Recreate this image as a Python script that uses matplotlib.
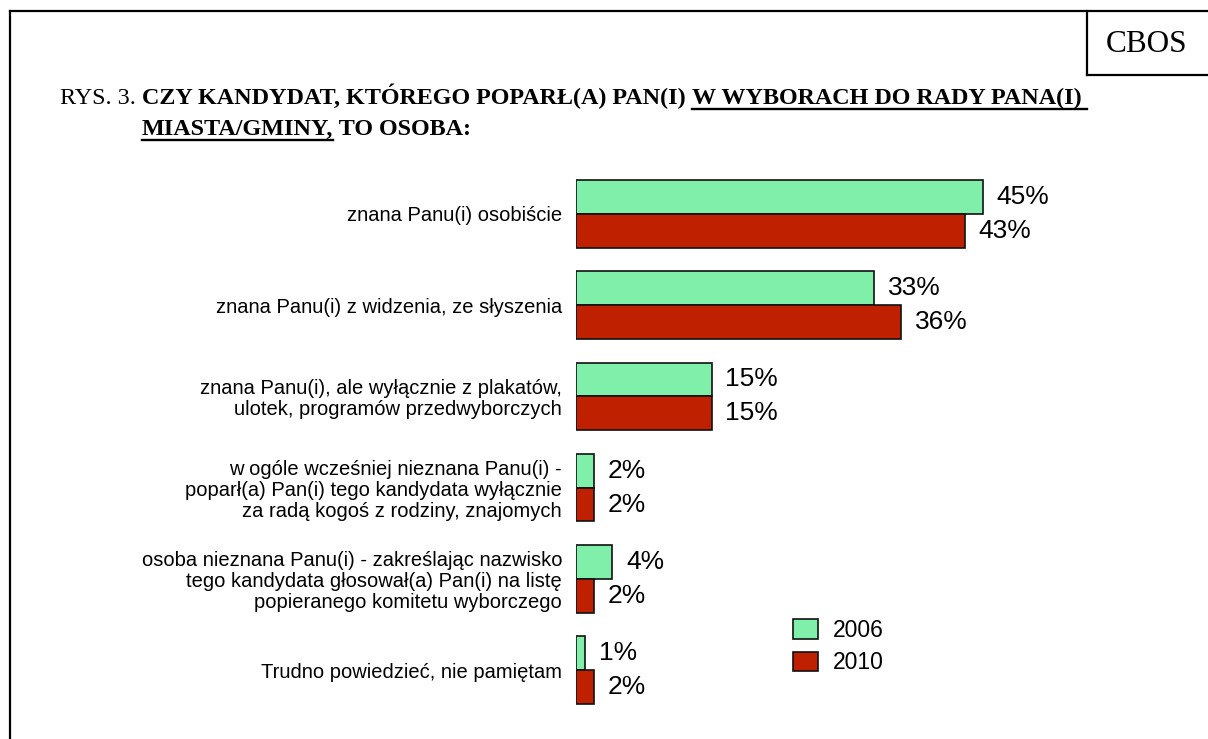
import numpy as np
import matplotlib.pyplot as plt
from matplotlib.lines import Line2D
from matplotlib.patches import Patch

# data
categories = [
    "znana Panu(i) osobiście",
    "znana Panu(i) z widzenia, ze słyszenia",
    "znana Panu(i), ale wyłącznie z plakatów,\nulotek, programów przedwyborczych",
    "w ogóle wcześniej nieznana Panu(i) -\npoparł(a) Pan(i) tego kandydata wyłącznie\nza radą kogoś z rodziny, znajomych",
    "osoba nieznana Panu(i) - zakreślając nazwisko\ntego kandydata głosował(a) Pan(i) na listę\npopieranego komitetu wyborczego",
    "Trudno powiedzieć, nie pamiętam",
]
values_2006 = [45, 33, 15, 2, 4, 1]
values_2010 = [43, 36, 15, 2, 2, 2]
series_names = ["2006", "2010"]

green = "#7FEFA9"
red = "#BF2000"
W, H = 1208, 739

fig = plt.figure(figsize=(W / 100, H / 100), dpi=100)


def fx(px):
    return px / W


def fy(py):
    return 1 - py / H


# page frame + CBOS box
lw = 1.6
fig.add_artist(Line2D([fx(10), fx(1208)], [fy(11), fy(11)], color="black", lw=lw))
fig.add_artist(Line2D([fx(10), fx(10)], [fy(11), fy(739)], color="black", lw=lw))
fig.add_artist(Line2D([fx(1087), fx(1087)], [fy(11), fy(75)], color="black", lw=lw))
fig.add_artist(Line2D([fx(1087), fx(1208)], [fy(75), fy(75)], color="black", lw=lw))
fig.text(fx(1147), fy(44), "CBOS", family="Liberation Serif", fontsize=22.5,
         ha="center", va="center")

# title built from pieces (regular / bold / underlined)
renderer = fig.canvas.get_renderer()
title_size = 17.4


def put(x, y, s, bold=False, underline=False):
    t = fig.text(fx(x), fy(y), s, family="Liberation Serif", fontsize=title_size,
                 fontweight="bold" if bold else "normal", va="baseline", ha="left")
    bb = t.get_window_extent(renderer)
    x2 = x + bb.width
    if underline:
        fig.add_artist(Line2D([fx(x), fx(x2)], [fy(y + 5), fy(y + 5)],
                              color="black", lw=1.7))
    return x2


x = put(60, 104, "RYS. 3. ")
x = put(x, 104, "CZY KANDYDAT, KTÓREGO POPARŁ(A) PAN(I) ", bold=True)
put(x, 104, "W WYBORACH DO RADY PANA(I) ", bold=True, underline=True)
x = put(142, 135, "MIASTA/GMINY,", bold=True, underline=True)
put(x, 135, " TO OSOBA:", bold=True)

# bar chart
ax = fig.add_axes([fx(576), fy(734), 452 / W, 584 / H])
y = np.arange(len(categories))
h = 0.37
b1 = ax.barh(y - h / 2, values_2006, height=h, color=green, edgecolor="#111111",
             linewidth=1.2, label=series_names[0])
b2 = ax.barh(y + h / 2, values_2010, height=h, color=red, edgecolor="#111111",
             linewidth=1.2, label=series_names[1])
ax.set_xlim(0, 50)
ax.set_ylim(5.7, -0.7)

for bars in (b1, b2):
    for rect in bars:
        v = rect.get_width()
        ax.annotate(f"{v:g}%", (v, rect.get_y() + rect.get_height() / 2),
                    xytext=(10, 0), textcoords="offset points", va="center",
                    ha="left", fontsize=19, family="Liberation Sans")

ax.set_yticks(y, categories)
ax.set_xticks([])
ax.tick_params(axis="y", length=0, pad=10)
for lab in ax.get_yticklabels():
    lab.set_fontsize(14.5)
    lab.set_family("Liberation Sans")
    lab.set_linespacing(1.12)
    lab.set_multialignment("right")
for s in ax.spines.values():
    s.set_visible(False)

handles = [Patch(facecolor=green, edgecolor="#111111", linewidth=1.2),
           Patch(facecolor=red, edgecolor="#111111", linewidth=1.2)]
fig.legend(handles, series_names, loc="upper left",
           bbox_to_anchor=(fx(793), fy(619)), frameon=False,
           prop={"family": "Liberation Sans", "size": 16.5},
           borderpad=0, borderaxespad=0, handlelength=1.09, handleheight=0.92,
           handletextpad=0.65, labelspacing=0.4)

fig.savefig("out.png", dpi=100)
